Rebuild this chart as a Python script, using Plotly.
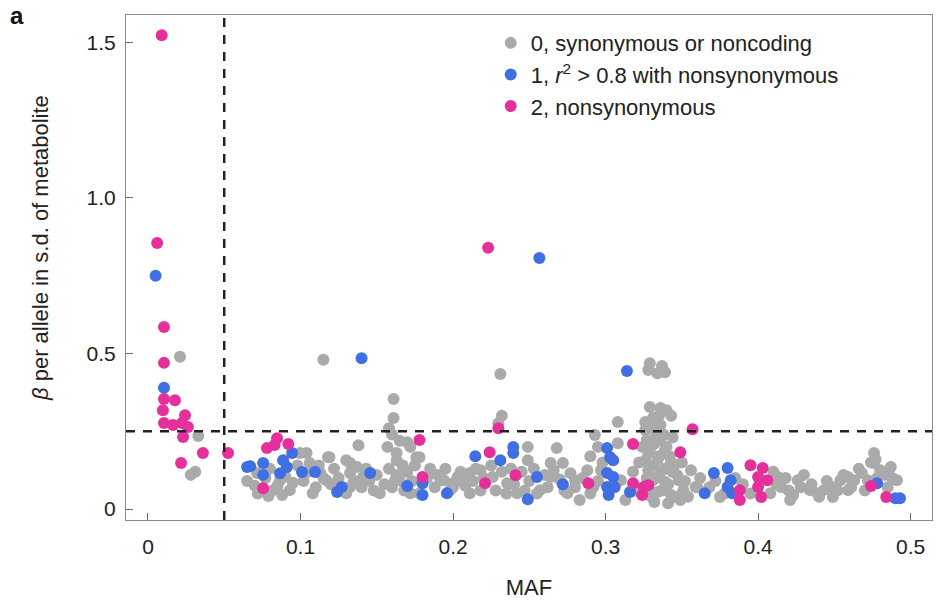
import plotly.graph_objects as go

# ---------------- data (MAF, beta) ----------------
gray_maf = [0.021, 0.033, 0.031, 0.028,
            0.0715, 0.082, 0.0997, 0.104, 0.106, 0.113, 0.108, 0.117, 0.118, 0.13, 0.1325, 0.1325,
            0.13, 0.137, 0.152, 0.163, 0.165, 0.163, 0.172, 0.176, 0.194, 0.2, 0.115, 0.161, 0.161,
            0.138, 0.157, 0.17, 0.178, 0.141, 0.1325, 0.119, 0.162, 0.172, 0.192, 0.203, 0.209,
            0.08, 0.0866, 0.093, 0.079,
            0.231, 0.2297, 0.249, 0.249, 0.268, 0.264, 0.272, 0.264, 0.275, 0.283, 0.292, 0.288,
            0.293, 0.308, 0.308, 0.211, 0.211, 0.226, 0.2355, 0.242, 0.205, 0.2, 0.218, 0.257,
            0.28, 0.297, 0.31, 0.313,
            0.329, 0.334, 0.339, 0.328, 0.329, 0.336, 0.34, 0.331, 0.326, 0.333, 0.327, 0.336,
            0.329, 0.339, 0.326, 0.334, 0.343, 0.328, 0.336, 0.344, 0.331, 0.339, 0.348, 0.326,
            0.334, 0.343, 0.332, 0.341, 0.351, 0.356, 0.36, 0.349,
            0.359, 0.349, 0.375, 0.413, 0.415, 0.426, 0.423, 0.439, 0.443, 0.449, 0.454, 0.459,
            0.463, 0.468, 0.472, 0.476, 0.476, 0.48, 0.487, 0.491, 0.459, 0.449, 0.408, 0.421,
            0.434,
            # extra density
            0.065, 0.07, 0.077, 0.085, 0.09, 0.095, 0.098, 0.072, 0.088,
            0.102, 0.105, 0.11, 0.112, 0.115, 0.12, 0.122, 0.125, 0.128, 0.135, 0.14, 0.143,
            0.145, 0.148, 0.15, 0.155, 0.158, 0.16, 0.163, 0.167, 0.168, 0.17, 0.173, 0.175,
            0.178, 0.183, 0.185, 0.188, 0.19, 0.195, 0.198, 0.16, 0.165, 0.158,
            0.205, 0.208, 0.213, 0.215, 0.218, 0.22, 0.225, 0.228, 0.232, 0.235, 0.238, 0.24,
            0.245, 0.247, 0.25, 0.253, 0.255, 0.26, 0.262, 0.266, 0.27, 0.273, 0.277, 0.28,
            0.285, 0.29, 0.295, 0.298, 0.232, 0.29, 0.295,
            0.318, 0.32, 0.322, 0.324, 0.326, 0.328, 0.33, 0.331, 0.332, 0.333, 0.335, 0.336,
            0.337, 0.338, 0.339, 0.34, 0.341, 0.342, 0.344, 0.345, 0.346, 0.347, 0.35, 0.352,
            0.354, 0.33, 0.327, 0.335, 0.343, 0.337,
            0.362, 0.368, 0.372, 0.378, 0.385, 0.39, 0.395, 0.41, 0.412, 0.418, 0.42, 0.428,
            0.43, 0.435, 0.44, 0.445, 0.452, 0.456, 0.461, 0.466, 0.47, 0.474, 0.478, 0.483,
            0.485, 0.488, 0.477]
gray_beta = [0.49, 0.235, 0.12, 0.11,
             0.116, 0.061, 0.18, 0.18, 0.148, 0.116, 0.051, 0.093, 0.167, 0.157, 0.116, 0.071,
             0.051, 0.135, 0.051, 0.157, 0.093, 0.18, 0.2, 0.167, 0.093, 0.083, 0.48, 0.354, 0.293,
             0.205, 0.2, 0.215, 0.167, 0.103, 0.148, 0.167, 0.093, 0.051, 0.093, 0.103, 0.1,
             0.13, 0.093, 0.061, 0.042,
             0.434, 0.276, 0.2, 0.157, 0.196, 0.148, 0.148, 0.103, 0.051, 0.029, 0.071, 0.125,
             0.238, 0.28, 0.212, 0.116, 0.051, 0.103, 0.083, 0.051, 0.093, 0.071, 0.125, 0.061,
             0.093, 0.125, 0.093, 0.029,
             0.469, 0.437, 0.44, 0.447, 0.328, 0.325, 0.318, 0.293, 0.254, 0.244, 0.222, 0.222,
             0.19, 0.19, 0.157, 0.157, 0.151, 0.125, 0.119, 0.119, 0.093, 0.087, 0.093, 0.061,
             0.055, 0.045, 0.023, 0.019, 0.061, 0.125, 0.071, 0.029,
             0.071, 0.093, 0.039, 0.103, 0.071, 0.093, 0.045, 0.051, 0.061, 0.071, 0.093, 0.103,
             0.093, 0.116, 0.093, 0.18, 0.148, 0.125, 0.135, 0.093, 0.061, 0.039, 0.051, 0.029,
             0.061,
             # extra density
             0.09, 0.075, 0.1, 0.075, 0.105, 0.085, 0.14, 0.05, 0.045,
             0.09, 0.12, 0.07, 0.14, 0.1, 0.08, 0.13, 0.1, 0.06, 0.09, 0.07, 0.13,
             0.09, 0.06, 0.11, 0.08, 0.13, 0.07, 0.11, 0.14, 0.06, 0.12, 0.09, 0.14,
             0.05, 0.1, 0.13, 0.07, 0.11, 0.13, 0.06, 0.24, 0.22, 0.26,
             0.12, 0.075, 0.09, 0.13, 0.06, 0.1, 0.14, 0.06, 0.12, 0.05, 0.13, 0.08,
             0.12, 0.06, 0.09, 0.13, 0.05, 0.11, 0.07, 0.125, 0.095, 0.06, 0.115, 0.07,
             0.1, 0.05, 0.09, 0.15, 0.3, 0.17, 0.2,
             0.12, 0.06, 0.15, 0.2, 0.28, 0.18, 0.27, 0.14, 0.21, 0.1, 0.17, 0.27,
             0.06, 0.24, 0.13, 0.2, 0.08, 0.17, 0.23, 0.14, 0.04, 0.11, 0.15, 0.09,
             0.04, 0.04, 0.1, 0.3, 0.3, 0.46,
             0.1, 0.07, 0.09, 0.05, 0.1, 0.08, 0.05, 0.12, 0.08, 0.1, 0.06, 0.07,
             0.11, 0.08, 0.04, 0.09, 0.06, 0.11, 0.07, 0.13, 0.06, 0.15, 0.1, 0.11,
             0.07, 0.1, 0.16]

blue_maf = [0.005, 0.0105, 0.065, 0.067, 0.0755, 0.0755, 0.0866, 0.0886, 0.0945, 0.091, 0.101,
            0.1096, 0.124, 0.127, 0.140, 0.1457, 0.17, 0.18, 0.18, 0.196, 0.2146, 0.231, 0.2395,
            0.2395, 0.255, 0.249, 0.272, 0.2566, 0.314, 0.301, 0.303, 0.305, 0.301, 0.305, 0.301,
            0.306, 0.302, 0.316, 0.371, 0.38, 0.382, 0.38, 0.365, 0.383, 0.478, 0.49, 0.493]
blue_beta = [0.75, 0.39, 0.135, 0.138, 0.148, 0.11, 0.115, 0.157, 0.18, 0.135, 0.119,
             0.119, 0.055, 0.071, 0.485, 0.116, 0.074, 0.083, 0.045, 0.051, 0.17, 0.157, 0.2,
             0.18, 0.103, 0.032, 0.08, 0.807, 0.444, 0.196, 0.167, 0.157, 0.116, 0.103, 0.071,
             0.071, 0.045, 0.055, 0.116, 0.132, 0.093, 0.071, 0.051, 0.051, 0.083, 0.035, 0.035]

pink_maf = [0.009, 0.006, 0.0105, 0.0105,
            0.0105, 0.0177, 0.0098, 0.0243, 0.0105, 0.0164, 0.0223, 0.0262, 0.023, 0.036, 0.0217,
            0.0525,
            0.0846, 0.078, 0.092, 0.083, 0.0755, 0.18, 0.178, 0.223, 0.2297, 0.224, 0.241, 0.221,
            0.2887, 0.318, 0.349, 0.357, 0.318, 0.325, 0.324, 0.328,
            0.395, 0.403, 0.4, 0.4, 0.388, 0.388, 0.406, 0.402, 0.474, 0.484]
pink_beta = [1.523, 0.855, 0.585, 0.47,
             0.354, 0.35, 0.318, 0.302, 0.277, 0.27, 0.277, 0.264, 0.232, 0.18, 0.148,
             0.18,
             0.228, 0.196, 0.209, 0.206, 0.067, 0.103, 0.222, 0.84, 0.26, 0.183, 0.109, 0.083,
             0.083, 0.209, 0.183, 0.257, 0.083, 0.071, 0.045, 0.077,
             0.141, 0.132, 0.103, 0.071, 0.061, 0.029, 0.093, 0.039, 0.074, 0.039]

x_ticks = [0, 0.1, 0.2, 0.3, 0.4, 0.5]
x_tick_text = ["0", "0.1", "0.2", "0.3", "0.4", "0.5"]
y_ticks = [0, 0.5, 1.0, 1.5]
y_tick_text = ["0", "0.5", "1.0", "1.5"]
maf_threshold = 0.05
beta_threshold = 0.25

GRAY = "#aaaaaa"
BLUE = "#3f6fe3"
PINK = "#e5309b"
FONT = "Liberation Sans, Arial, sans-serif"
TXT = "#222222"

fig = go.Figure()
fig.add_trace(go.Scatter(x=gray_maf, y=gray_beta, mode="markers",
                         marker=dict(color=GRAY, size=12, line=dict(width=0)),
                         name="0, synonymous or noncoding"))
fig.add_trace(go.Scatter(x=blue_maf, y=blue_beta, mode="markers",
                         marker=dict(color=BLUE, size=12, line=dict(width=0)),
                         name="1, <i>r</i><sup>2</sup> > 0.8 with nonsynonymous"))
fig.add_trace(go.Scatter(x=pink_maf, y=pink_beta, mode="markers",
                         marker=dict(color=PINK, size=12, line=dict(width=0)),
                         name="2, nonsynonymous"))

fig.add_shape(type="line", xref="x", yref="paper", x0=maf_threshold, x1=maf_threshold, y0=0, y1=1,
              line=dict(color="#222222", width=2.5, dash="9px,8px"))
fig.add_shape(type="line", xref="paper", yref="y", x0=0, x1=1, y0=beta_threshold, y1=beta_threshold,
              line=dict(color="#222222", width=2.5, dash="9px,8px"))

axis_common = dict(showline=True, mirror=True, linecolor="#8a8a8a", linewidth=1.2,
                   ticks="inside", ticklen=7, tickcolor="#6a6a6a", tickwidth=1,
                   showgrid=False, zeroline=False, automargin=False,
                   tickfont=dict(family=FONT, size=21, color=TXT))
fig.update_xaxes(range=[-0.0144, 0.514], tickvals=x_ticks, ticktext=x_tick_text,
                 ticklabelstandoff=8,
                 title=dict(text="MAF", font=dict(family=FONT, size=22, color=TXT), standoff=22),
                 **axis_common)
fig.update_yaxes(range=[-0.035, 1.588], tickvals=y_ticks, ticktext=y_tick_text,
                 ticklabelstandoff=5, **axis_common)

# y-axis title (placed a little above centre, as in the original figure)
fig.add_annotation(text="<i>β</i> per allele in s.d. of metabolite", textangle=-90,
                   xref="paper", yref="paper", x=-0.1067, y=0.5386,
                   xanchor="center", yanchor="middle", showarrow=False,
                   font=dict(family=FONT, size=22, color=TXT))

fig.add_annotation(text="<b>a</b>", xref="paper", yref="paper", x=-0.146, y=1.0297,
                   xanchor="left", yanchor="top", showarrow=False,
                   font=dict(family=FONT, size=24, color="#111111"))

fig.update_layout(
    width=945, height=607,
    margin=dict(l=126, r=13, t=15, b=87),
    plot_bgcolor="white", paper_bgcolor="white",
    font=dict(family=FONT, color=TXT),
    legend=dict(x=0.4525, y=0.986, xanchor="left", yanchor="top",
                font=dict(family=FONT, size=22, color=TXT),
                bgcolor="rgba(0,0,0,0)", itemwidth=30, tracegroupgap=0),
)

fig.write_html("out.html")
